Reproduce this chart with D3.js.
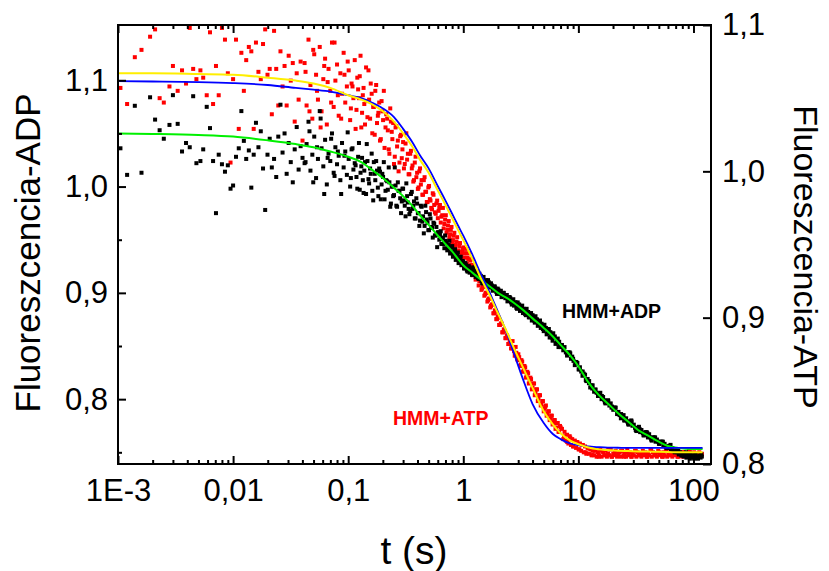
<!DOCTYPE html>
<html><head><meta charset="utf-8">
<script src="https://cdn.jsdelivr.net/npm/d3@7"></script>
<style>
body{margin:0;background:#fff;}
text{font-family:"Liberation Sans",Arial,sans-serif;}
</style>
</head><body>
<svg id="c" width="829" height="571"></svg>
<script>
// ---------- data (t in seconds) ----------
const timeA = [0.00105,0.0012,0.0014,0.0016,0.0019,0.0021,0.0023,0.0025,0.0028,0.0030,
0.0033,0.0036,0.0039,0.0042,0.0045,0.0048,0.0052,0.0055,0.0059,0.0063,
0.0067,0.0071,0.0075,0.0080,0.0085,0.0090,0.0095,0.0100,0.0106,0.0112,
0.0118,0.0124,0.0130,0.0137,0.0144,0.0151,0.0158,0.0166,0.0174,0.0182,
0.0190,0.0199,0.0208,0.0217,0.0227,0.0237,0.0247,0.0258,0.0269,0.0280,
0.0292,0.0304,0.0317,0.0330,0.0343,0.0357,0.0371,0.0386,0.0401];
const adpA = [1.036,1.011,1.076,1.013,1.084,1.063,1.053,1.045,1.058,1.086,
1.059,1.033,1.041,1.037,1.085,1.022,1.024,1.035,1.075,1.055,
1.024,0.975,1.030,1.021,1.014,1.020,0.998,1.001,1.028,1.036,
1.071,1.043,1.026,1.034,0.999,1.030,1.060,1.037,1.052,1.017,
0.978,1.030,1.045,1.018,1.026,1.009,1.047,1.077,1.032,1.050,
1.012,1.041,1.023,1.004,1.035,1.056,1.016,1.038,1.027];
const atpA = [1.057,1.046,1.078,1.083,1.092,1.097,1.050,1.047,1.058,1.072,
1.055,1.069,1.060,1.098,1.070,1.063,1.069,1.064,1.052,1.095,
1.046,1.072,1.052,1.098,1.090,1.067,1.006,1.063,1.090,1.029,
1.081,1.055,1.076,1.085,1.082,1.029,1.088,1.068,1.063,1.087,
1.097,1.066,1.070,1.039,1.096,1.070,1.045,1.082,1.058,1.072,
1.045,1.079,1.062,1.074,1.034,1.067,1.049,1.075,1.021];

const timeB = [0.0418,0.0435,0.0452,0.0470,0.0488,0.0507,0.0526,0.0546,0.0566,0.0587,
0.0608,0.0630,0.0652,0.0675,0.0699,0.0723,0.0748,0.0774,0.0800,0.0827,
0.0855,0.0884,0.0913,0.0943,0.0974,0.101,0.104,0.107,0.111,0.114,
0.118,0.122,0.126,0.130,0.134,0.138,0.143,0.147,0.152,0.157,
0.162,0.167,0.172,0.178,0.183,0.189,0.195,0.201,0.207,0.214,
0.221,0.228,0.235,0.242,0.250,0.258,0.266,0.274,0.283,0.292];
const adpB = [1.022,1.040,1.061,1.015,1.030,1.047,1.008,1.026,1.071,1.036,
1.019,1.044,1.002,1.031,1.024,1.050,1.013,1.037,1.021,1.029,
1.006,1.041,1.018,1.033,1.011,1.026,1.000,1.035,1.016,1.022,
1.009,1.028,0.997,1.019,1.006,1.015,0.993,1.024,1.003,1.012,
0.996,1.023,1.006,1.015,0.991,1.014,1.002,1.009,0.988,1.006,
0.997,1.004,0.984,1.000,0.992,1.001,0.981,0.996,0.989,0.986];
const atpB = [1.074,1.045,1.090,1.059,1.036,1.080,1.066,1.049,1.085,1.041,
1.063,1.077,1.032,1.070,1.055,1.088,1.044,1.062,1.073,1.038,
1.067,1.053,1.081,1.047,1.058,1.069,1.035,1.060,1.050,1.076,
1.042,1.056,1.065,1.030,1.052,1.046,1.071,1.037,1.049,1.060,
1.026,1.044,1.055,1.033,1.040,1.021,1.048,1.035,1.016,1.039,
1.028,1.012,1.034,1.022,1.005,1.030,1.017,1.000,1.024,1.009];

const timeF = [0.0426,0.0461,0.0497,0.0536,0.0576,0.0619,0.0663,0.0711,0.0761,0.0813,
0.0869,0.0928,0.0990,0.1055,0.109,0.116,0.120,0.124,0.128,0.132,
0.136,0.140,0.145,0.150,0.155,0.160,0.165,0.170,0.175,0.181,
0.186,0.192,0.198,0.204,0.211,0.218,0.225,0.232,0.239,0.246,
0.254,0.262,0.270,0.279,0.288,0.296,0.305,0.315,0.325,0.335,
0.346,0.357,0.368,0.379,0.391,0.403,0.415,0.428,0.441,0.454,
0.468,0.482,0.497,0.512,0.527,0.543,0.559,0.576,0.593,0.610];
const adpF = [1.023,1.052,1.004,1.037,1.064,0.993,1.027,1.045,1.010,1.033,
0.993,1.029,1.051,1.008,1.036,1.020,0.998,1.041,1.013,1.027,
0.994,1.023,1.040,1.007,1.017,1.031,0.987,1.012,1.024,0.999,
1.017,0.988,1.012,1.023,0.996,1.005,1.018,0.981,1.000,0.991,
1.018,0.982,1.004,0.996,0.975,0.998,0.987,0.972,0.991,0.979,
0.977,0.995,0.982,0.970,0.989,0.975,0.963,0.982,0.967,0.956,
0.982,0.969,0.959,0.974,0.962,0.952,0.965,0.954,0.943,0.957];
const atpF = [1.068,1.041,1.083,1.055,1.030,1.072,1.061,1.047,1.088,1.052,
1.036,1.066,1.075,1.043,1.058,1.029,1.064,1.050,1.079,1.040,
1.057,1.032,1.048,1.069,1.036,1.053,1.044,1.025,1.059,1.038,
1.047,1.022,1.041,1.055,1.030,1.036,1.015,1.043,1.027,1.033,
1.010,1.031,1.021,1.006,1.025,1.015,1.002,1.019,1.008,0.998,
1.012,1.002,0.993,1.006,0.996,0.988,1.000,0.991,0.984,0.994,
0.986,0.979,0.989,0.981,0.975,0.985,0.977,0.971,0.980,0.973];

const timeC = [0.300,0.310,0.320,0.330,0.340,0.351,0.362,0.373,0.385,0.397,
0.409,0.421,0.434,0.447,0.461,0.475,0.489,0.504,0.519,0.535,
0.551,0.567,0.584,0.601,0.619,0.637,0.656,0.675,0.695,0.715,
0.736,0.757,0.779,0.801,0.824,0.848,0.872,0.897,0.923,0.949,0.976];
const adpC = [0.998,0.982,1.003,0.985,0.974,0.993,0.979,0.986,0.970,0.984,
0.975,0.968,0.981,0.972,0.963,0.976,0.966,0.959,0.970,0.961,
0.966,0.954,0.962,0.957,0.950,0.958,0.952,0.946,0.954,0.947,
0.942,0.949,0.940,0.944,0.937,0.941,0.933,0.938,0.930,0.934,0.927];
const atpC = [1.020,1.005,1.026,1.012,0.998,1.014,1.004,0.994,1.010,0.999,
0.989,1.002,0.994,0.984,0.996,0.986,0.979,0.990,0.980,0.974,
0.984,0.972,0.978,0.968,0.975,0.965,0.970,0.961,0.967,0.958,
0.963,0.955,0.960,0.951,0.956,0.948,0.952,0.945,0.949,0.941,0.945];

const timeG = [0.627,0.645,0.665,0.685,0.705,0.726,0.747,0.768,0.790,0.813,
0.836,0.860,0.885,0.910,0.936,0.963,0.990,1.015,1.045,1.075,
1.105,1.135,1.17,1.205,1.24,1.28,1.32,1.36,1.40,1.44,
1.48,1.525,1.575,1.62,1.665,1.715,1.77,1.825,1.88,1.935,
1.99,2.05,2.12,2.18,2.25,2.32,2.39,2.46,2.53,2.60];
const adpG = [0.955,0.946,0.951,0.942,0.949,0.940,0.945,0.937,0.943,0.934,
0.939,0.931,0.936,0.928,0.933,0.926,0.930,0.923,0.928,0.921,
0.925,0.919,0.923,0.917,0.921,0.915,0.918,0.913,0.916,0.911,
0.914,0.909,0.912,0.907,0.910,0.905,0.907,0.903,0.906,0.901,
0.904,0.899,0.902,0.897,0.900,0.895,0.898,0.893,0.896,0.891];
const atpG = [0.977,0.969,0.975,0.964,0.970,0.960,0.966,0.957,0.962,0.953,
0.958,0.950,0.955,0.946,0.951,0.943,0.947,0.941,0.944,0.937,
0.940,0.934,0.936,0.929,0.932,0.926,0.928,0.922,0.925,0.919,
0.921,0.915,0.917,0.911,0.913,0.907,0.909,0.903,0.905,0.899,
0.901,0.895,0.896,0.890,0.892,0.886,0.888,0.882,0.884,0.879];

const timeD = [1.00,1.03,1.06,1.09,1.12,1.15,1.19,1.22,1.26,1.30,
1.34,1.38,1.42,1.46,1.50,1.55,1.60,1.64,1.69,1.74,
1.80,1.85,1.91,1.96,2.02,2.08,2.15,2.21,2.28,2.35,
2.42,2.49,2.56,2.64,2.72,2.80,2.89,2.97,3.06,3.16,
3.25,3.35,3.45,3.55,3.66,3.77,3.88,4.00,4.12,4.24,
4.37,4.50,4.64,4.78,4.92,5.07,5.22,5.38,5.54,5.71,
5.88,6.05,6.24,6.42,6.62,6.81,7.02];
const adpD = [0.929,0.923,0.926,0.920,0.925,0.922,0.917,0.924,0.917,0.920,
0.914,0.918,0.916,0.909,0.915,0.911,0.906,0.912,0.907,0.909,
0.902,0.906,0.904,0.899,0.903,0.901,0.896,0.900,0.897,0.898,
0.892,0.896,0.895,0.889,0.894,0.891,0.886,0.891,0.889,0.884,
0.888,0.885,0.880,0.885,0.882,0.877,0.881,0.879,0.874,0.878,
0.875,0.870,0.874,0.871,0.866,0.870,0.867,0.862,0.866,0.863,
0.858,0.862,0.859,0.853,0.857,0.854,0.849];
const atpD = [0.948,0.944,0.947,0.941,0.944,0.939,0.940,0.934,0.936,0.929,
0.931,0.925,0.926,0.920,0.922,0.916,0.917,0.912,0.913,0.908,
0.909,0.903,0.904,0.899,0.900,0.895,0.896,0.890,0.891,0.886,
0.887,0.882,0.883,0.879,0.879,0.874,0.876,0.871,0.873,0.868,
0.870,0.864,0.866,0.860,0.862,0.856,0.858,0.852,0.855,0.849,
0.851,0.845,0.847,0.841,0.843,0.838,0.840,0.834,0.836,0.831,
0.833,0.828,0.830,0.825,0.828,0.822,0.825];

const timeH = [2.68,2.76,2.85,2.93,3.01,3.11,3.20,3.30,3.40,3.50,
3.60,3.71,3.83,3.94,4.06,4.18,4.31,4.44,4.57,4.71,
4.85,5.00,5.15,5.30,5.46,5.63,5.80,5.97,6.15,6.33,
6.52,6.72,6.92];
const adpH = [0.893,0.888,0.891,0.885,0.889,0.883,0.887,0.881,0.884,0.879,
0.882,0.877,0.880,0.874,0.877,0.872,0.875,0.869,0.872,0.867,
0.870,0.864,0.867,0.861,0.864,0.858,0.861,0.855,0.858,0.852,
0.855,0.849,0.851];
const atpH = [0.884,0.877,0.880,0.872,0.875,0.867,0.871,0.863,0.867,0.859,
0.863,0.855,0.859,0.851,0.855,0.847,0.851,0.843,0.847,0.840,
0.843,0.836,0.839,0.833,0.836,0.830,0.833,0.827,0.830,0.824,
0.828,0.822,0.826];

const timeE = [7.20,7.39,7.58,7.78,7.98,8.19,8.40,8.62,8.84,9.07,
9.31,9.55,9.80,10.05,10.31,10.58,10.86,11.14,11.43,11.73,
12.03,12.35,12.67,13.0,13.3,13.7,14.0,14.4,14.8,15.1,
15.5,15.9,16.4,16.8,17.2,17.7,18.1,18.6,19.1,19.6,
20.1,20.6,21.1,21.7,22.3,22.8,23.4,24.0,24.7,25.3,
26.0,26.6,27.3,28.0,28.8,29.5,30.3,31.1,31.9,32.7,
33.6,34.4,35.3,36.3,37.2,38.2,39.2,40.2,41.2,42.3,
43.4,44.5,45.7,46.9,48.1,49.4,50.6,52.0,53.3,54.7,
56.1,57.6,59.1,60.6,62.2,63.8,65.5,67.2,68.9,70.7,
72.6,74.5,76.4,78.4,80.4,82.5,84.7,86.9,89.1,91.5,
93.8,96.3,98.8,101.4,104.0,106.7,109.5,112.3,115.3,118.3];
const adpE = [0.851,0.846,0.849,0.844,0.841,0.844,0.844,0.838,0.840,0.836,
0.832,0.834,0.834,0.828,0.830,0.826,0.822,0.824,0.823,0.817,
0.819,0.815,0.811,0.813,0.813,0.807,0.809,0.806,0.803,0.805,
0.806,0.800,0.802,0.799,0.796,0.798,0.799,0.794,0.796,0.793,
0.790,0.792,0.792,0.786,0.788,0.785,0.782,0.784,0.785,0.780,
0.782,0.779,0.776,0.779,0.780,0.775,0.776,0.773,0.770,0.773,
0.774,0.769,0.771,0.768,0.766,0.769,0.769,0.764,0.767,0.764,
0.761,0.764,0.764,0.760,0.762,0.760,0.758,0.760,0.760,0.756,
0.758,0.755,0.754,0.756,0.756,0.752,0.754,0.751,0.750,0.752,
0.750,0.748,0.750,0.747,0.749,0.746,0.748,0.745,0.748,0.746,
0.749,0.745,0.747,0.744,0.748,0.746,0.744,0.747,0.745,0.746];
const atpE = [0.824,0.817,0.822,0.816,0.820,0.814,0.819,0.813,0.817,0.812,
0.816,0.811,0.815,0.810,0.814,0.809,0.813,0.808,0.812,0.807,
0.811,0.807,0.810,0.806,0.809,
0.806,0.809,0.805,0.808,0.806,0.810,0.805,0.808,0.806,0.809,
0.805,0.807,0.806,0.810,0.805,0.807,0.806,0.809,0.805,0.807,
0.808,0.805,0.809,0.806,0.807,0.805,0.810,0.806,0.808,0.805,
0.807,0.806,0.809,0.805,0.808,0.806,0.807,0.805,0.809,0.806,
0.808,0.805,0.807,0.806,0.810,0.805,0.808,0.806,0.807,0.805,
0.809,0.806,0.807,0.805,0.808,0.806,0.809,0.805,0.807,0.806,
0.808,0.805,0.807,0.806,0.809,0.805,0.808,0.806,0.807,0.805,
0.808,0.806,0.807,0.805,0.809,0.806,0.807,0.805,0.808,0.806,
0.807,0.805,0.808,0.806,0.807];

const timeI = [7.5,8.0,8.5,9.0,9.6,10.2,10.9,11.6,12.4,13.2,
14.1,15.0,16.0,17.0,18.2,19.4,20.7,22.0,23.5,25.0];
const adpI = [0.848,0.842,0.843,0.838,0.835,0.828,0.826,0.818,0.817,0.810,
0.809,0.803,0.803,0.797,0.798,0.792,0.792,0.786,0.786,0.780];
const atpI = [0.819,0.815,0.818,0.812,0.815,0.810,0.813,0.808,0.811,0.806,
0.810,0.805,0.809,0.806,0.810,0.805,0.808,0.806,0.809,0.805];

const timeJ = [27,29,31.5,34,36.8,39.7,42.9,46.4,50.1,54.2,
58.5,63.2,68.3,73.8,79.7,86.1,93,100.5,108.5,117];
const adpJ = [0.777,0.779,0.771,0.772,0.766,0.768,0.762,0.764,0.758,0.760,
0.754,0.757,0.751,0.753,0.747,0.750,0.744,0.747,0.745,0.748];
const atpJ = [0.808,0.805,0.809,0.806,0.807,0.805,0.810,0.806,0.808,0.805,
0.809,0.806,0.807,0.805,0.808,0.806,0.809,0.805,0.807,0.806];

// fitted curves
const fitTime = [0.001,0.002,0.005,0.01,0.02,0.035,0.05,0.07,0.1,0.13,
0.16,0.2,0.25,0.3,0.36,0.42,0.5,0.6,0.7,0.8,
0.9,1.0,1.2,1.4,1.7,2.0,2.4,2.8,3.3,4,
5,6,7,8.5,10,12,15,18,22,27,
33,40,50,60,75,95,120];
const fitADPgreen = [1.050,1.0495,1.0485,1.047,1.0435,1.040,1.037,1.033,1.028,1.023,
1.016,1.008,0.999,0.991,0.982,0.973,0.964,0.954,0.946,0.939,
0.932,0.926,0.919,0.913,0.906,0.900,0.895,0.890,0.884,0.876,
0.867,0.859,0.851,0.841,0.831,0.817,0.804,0.796,0.787,0.779,
0.771,0.766,0.760,0.756,0.754,0.753,0.753];
const fitATPyellow = [1.067,1.067,1.0665,1.066,1.064,1.062,1.060,1.057,1.052,1.049,
1.046,1.041,1.034,1.026,1.017,1.008,0.999,0.987,0.977,0.968,
0.960,0.953,0.940,0.928,0.915,0.903,0.890,0.878,0.866,0.852,
0.836,0.827,0.821,0.816,0.8135,0.8115,0.810,0.8095,0.809,0.8088,
0.8086,0.8085,0.8083,0.8082,0.808,0.808,0.808];
const fitATPblue = [1.0616,1.0614,1.061,1.0603,1.059,1.057,1.0558,1.0545,1.052,1.050,
1.047,1.043,1.037,1.029,1.020,1.011,1.002,0.990,0.980,0.971,
0.963,0.956,0.943,0.931,0.917,0.904,0.889,0.874,0.858,0.841,
0.828,0.8205,0.817,0.814,0.8128,0.812,0.8115,0.8112,0.8111,0.811,
0.811,0.811,0.811,0.811,0.811,0.811,0.811];

// ticks
const xMajorTicks = [0.001,0.01,0.1,1,10,100];
const xTickLabels = ["1E-3","0,01","0,1","1","10","100"];
const xMinorTicks = [0.002,0.003,0.004,0.005,0.006,0.007,0.008,0.009,
0.02,0.03,0.04,0.05,0.06,0.07,0.08,0.09,
0.2,0.3,0.4,0.5,0.6,0.7,0.8,0.9,
2,3,4,5,6,7,8,9,
20,30,40,50,60,70,80,90];
const leftTicks = [0.8,0.9,1.0,1.1];
const leftTickLabels = ["0,8","0,9","1,0","1,1"];
const leftMinorTicks = [0.75,0.85,0.95,1.05];
const rightTicks = [0.8,0.9,1.0,1.1];
const rightTickLabels = ["0,8","0,9","1,0","1,1"];

// ---------- drawing ----------
const L = 118, R = 711, T = 25, B = 464;
const svg = d3.select("#c");
const x = d3.scaleLog().domain([0.001, 142]).range([L, R]);
const yL = d3.scaleLinear().domain([0.739, 1.152]).range([B, T]);
const yR = d3.scaleLinear().domain([0.8, 1.1]).range([B, T]);

function zip(ts, vs) { const n = Math.min(ts.length, vs.length); return ts.slice(0, n).map((t, i) => ({t, v: vs[i]})); }
const adpPts = [].concat(zip(timeA, adpA), zip(timeB, adpB), zip(timeF, adpF), zip(timeC, adpC),
  zip(timeG, adpG), zip(timeD, adpD), zip(timeH, adpH), zip(timeE, adpE), zip(timeI, adpI), zip(timeJ, adpJ));
const atpPts = [].concat(zip(timeA, atpA), zip(timeB, atpB), zip(timeF, atpF), zip(timeC, atpC),
  zip(timeG, atpG), zip(timeD, atpD), zip(timeH, atpH), zip(timeE, atpE), zip(timeI, atpI), zip(timeJ, atpJ));

svg.append("defs").append("clipPath").attr("id", "clip")
  .append("rect").attr("x", L).attr("y", T).attr("width", R - L).attr("height", B - T);

const plot = svg.append("g").attr("clip-path", "url(#clip)");
const S = 4;
plot.selectAll("rect.atp").data(atpPts).join("rect").attr("class", "atp")
  .attr("x", d => x(d.t) - S / 2).attr("y", d => yR(d.v) - S / 2)
  .attr("width", S).attr("height", S).attr("fill", "#ff0000");
plot.selectAll("rect.adp").data(adpPts).join("rect").attr("class", "adp")
  .attr("x", d => x(d.t) - S / 2).attr("y", d => yL(d.v) - S / 2)
  .attr("width", S).attr("height", S).attr("fill", "#000000");

const fitL = zip(fitTime, fitADPgreen);
const fitY = zip(fitTime, fitATPyellow);
const fitB = zip(fitTime, fitATPblue);
const lineL = d3.line().x(d => x(d.t)).y(d => yL(d.v)).curve(d3.curveMonotoneX);
const lineR = d3.line().x(d => x(d.t)).y(d => yR(d.v)).curve(d3.curveMonotoneX);
plot.append("path").attr("d", lineL(fitL)).attr("fill", "none").attr("stroke", "#00f000").attr("stroke-width", 2);
plot.append("path").attr("d", lineR(fitB)).attr("fill", "none").attr("stroke", "#0000ff").attr("stroke-width", 1.8);
plot.append("path").attr("d", lineR(fitY)).attr("fill", "none").attr("stroke", "#ffee00").attr("stroke-width", 2);

// axes
function styleAxis(g, fs) {
  g.select(".domain").remove();
  g.selectAll(".tick line").attr("stroke", "#000").attr("stroke-width", 2);
  g.selectAll(".tick text").attr("fill", "#000").style("font-size", fs + "px")
    .style("font-family", '"Liberation Sans", Arial, sans-serif');
}
const FS = 31;
svg.append("g").attr("transform", `translate(0,${B})`)
  .call(d3.axisBottom(x).tickValues(xMajorTicks).tickFormat((d, i) => xTickLabels[i]).tickSize(-8).tickPadding(15))
  .call(g => styleAxis(g, FS));
svg.append("g").attr("transform", `translate(0,${B})`)
  .call(d3.axisBottom(x).tickValues(xMinorTicks).tickFormat("").tickSize(-4))
  .call(g => styleAxis(g, FS));
svg.append("g").attr("transform", `translate(0,${T})`)
  .call(d3.axisTop(x).tickValues(xMajorTicks).tickFormat("").tickSize(-8))
  .call(g => styleAxis(g, FS));
svg.append("g").attr("transform", `translate(0,${T})`)
  .call(d3.axisTop(x).tickValues(xMinorTicks).tickFormat("").tickSize(-4))
  .call(g => styleAxis(g, FS));
svg.append("g").attr("transform", `translate(${L},0)`)
  .call(d3.axisLeft(yL).tickValues(leftTicks).tickFormat((d, i) => leftTickLabels[i]).tickSize(-8).tickPadding(10))
  .call(g => styleAxis(g, FS));
svg.append("g").attr("transform", `translate(${L},0)`)
  .call(d3.axisLeft(yL).tickValues(leftMinorTicks).tickFormat("").tickSize(-4))
  .call(g => styleAxis(g, FS));
svg.append("g").attr("transform", `translate(${R},0)`)
  .call(d3.axisRight(yR).tickValues(rightTicks).tickFormat((d, i) => rightTickLabels[i]).tickSize(-8).tickPadding(11))
  .call(g => styleAxis(g, FS));

svg.append("rect").attr("x", L).attr("y", T).attr("width", R - L).attr("height", B - T)
  .attr("fill", "none").attr("stroke", "#000").attr("stroke-width", 2);

// titles
svg.append("text").attr("transform", "translate(40,253) rotate(-90)")
  .attr("text-anchor", "middle").style("font-size", "35px").attr("fill", "#000")
  .text("Fluoreszcencia-ADP");
svg.append("text").attr("transform", "translate(794,257) rotate(90)")
  .attr("text-anchor", "middle").style("font-size", "34px").attr("fill", "#000")
  .text("Fluoreszcencia-ATP");
svg.append("text").attr("x", 414).attr("y", 564).attr("text-anchor", "middle")
  .style("font-size", "39px").attr("fill", "#000").text("t (s)");

svg.append("text").attr("x", 562).attr("y", 318).style("font-size", "19.5px")
  .style("font-weight", "bold").attr("fill", "#000").text("HMM+ADP");
svg.append("text").attr("x", 393).attr("y", 425).style("font-size", "19.5px")
  .style("font-weight", "bold").attr("fill", "#ff0000").text("HMM+ATP");
</script>
</body></html>
